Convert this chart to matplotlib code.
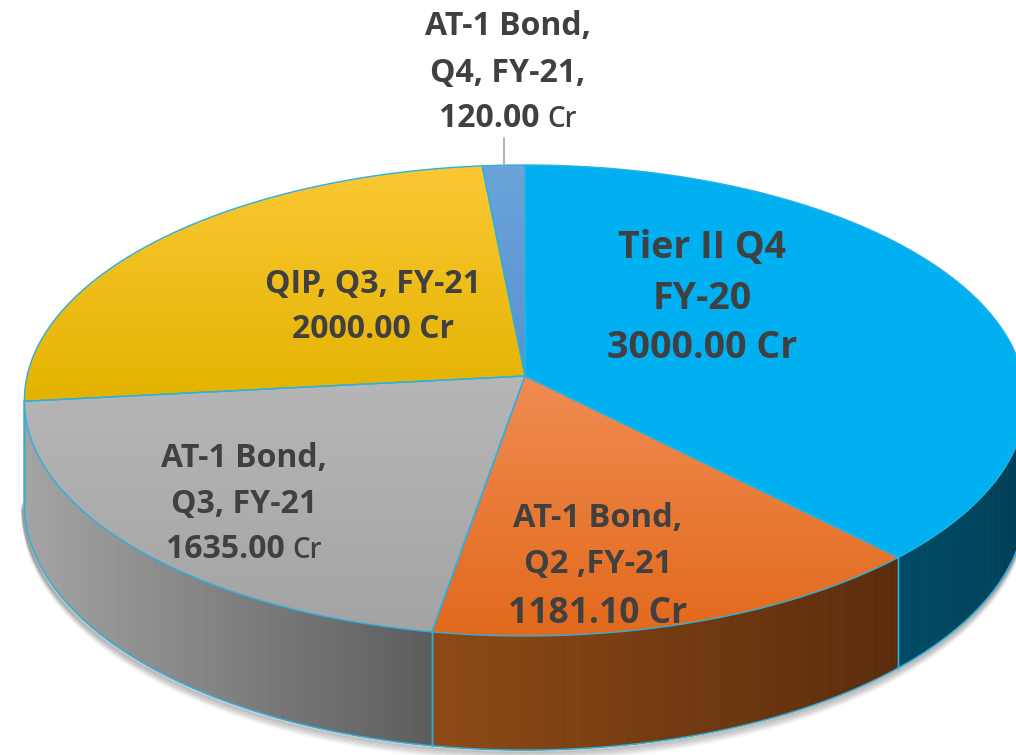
import numpy as np
import matplotlib.pyplot as plt
from matplotlib.patches import Polygon
from matplotlib.collections import PolyCollection
import matplotlib.colors as mcolors

OUTPUT_FILE = "out.png"

# data, clockwise from 12 o'clock
values = [3000.00, 1181.10, 1635.00, 2000.00, 120.00]
label_lines = [
    ["Tier II Q4", "FY-20", "3000.00 Cr"],
    ["AT-1 Bond,", "Q2 ,FY-21", "1181.10 Cr"],
    ["AT-1 Bond,", "Q3, FY-21", "1635.00 Cr"],
    ["QIP, Q3, FY-21", "2000.00 Cr"],
    ["AT-1 Bond,", "Q4, FY-21,", "120.00 Cr"],
]

# styles
top_colors = [("#00B0F0", "#00B0F0"), ("#F08C52", "#E2691C"), ("#B6B6B6", "#A4A4A4"),
              ("#FBC835", "#E3B300"), ("#6BA3DA", "#5A92CF")]
side_colors = [("#004B66", "#003F56"), ("#8E4A16", "#5A2C0C"), ("#A4A4A4", "#5C5C5C"),
               ("#C49A00", "#8A6C00"), ("#3F6E9C", "#2F5478")]
EDGE = "#2BB0E0"
TEXT = "#404040"
FONT = "Open Sans"

# label placement: center x, baselines, fontsize per line
label_pos = [
    (702, [258, 309, 358], [27, 27, 27]),
    (598, [527, 573, 623], [23.5, 23.5, 25.5]),
    (244, [467, 513, 558], [23, 23, 23]),
    (373, [293, 338], [23, 23]),
    (508, [35, 82, 127], [23, 23, 23]),
]
light_unit = {2, 4}   # "Cr" drawn lighter/smaller in these labels

# perspective of the disc
CX, Y0 = 525.0, 376.0
D, A, F, FH = 9.62, 21557.0, 4790.0, 983.0
HORIZON = Y0 - A / D


def proj(t, drop=0.0):
    u = np.cos(t)
    v = -np.sin(t)
    w = D - v
    return CX + F * u / w, HORIZON + (A + drop * FH) / w


def blend(c1, c2, f):
    a = np.array(mcolors.to_rgb(c1))
    b = np.array(mcolors.to_rgb(c2))
    return tuple(a + (b - a) * f)


def main():
    fig = plt.figure(figsize=(10.16, 7.55), dpi=100)
    ax = fig.add_axes([0, 0, 1, 1])
    ax.set_xlim(0, 1016)
    ax.set_ylim(755, 0)
    ax.axis('off')

    total = sum(values)
    frac = np.array(values) / total
    edges = np.deg2rad(90 - 360 * np.concatenate([[0], np.cumsum(frac)]))

    vis_hi = -np.arcsin(1 / D)
    vis_lo = -np.pi + np.arcsin(1 / D)

    # soft shadow under the rim
    ts = np.linspace(vis_lo, vis_hi, 300)
    for k in range(8):
        bx, by = proj(ts, 1.0)
        ax.plot(bx - 1, by + 1 + k * 1.2, color='black', alpha=0.09 - k * 0.01,
                lw=3, solid_capstyle='round', zorder=1)

    # rim (sides)
    for i in range(len(values)):
        t1, t2 = edges[i], edges[i + 1]
        hi = min(t1, vis_hi)
        lo = max(t2, vis_lo)
        if hi <= lo:
            continue
        n = max(int(np.rad2deg(hi - lo) * 2), 4)
        tt = np.linspace(lo, hi, n + 1)
        xs_lo = proj(lo)[0]
        xs_hi = proj(hi)[0]
        polys, cols = [], []
        for k in range(n):
            xa, ya = proj(tt[k])
            xb, yb = proj(tt[k + 1])
            xc, yc = proj(tt[k + 1], 1.0)
            xd, yd = proj(tt[k], 1.0)
            polys.append([(xa, ya), (xb, yb), (xc, yc), (xd, yd)])
            xm = (xa + xb) / 2
            f = (xm - min(xs_lo, xs_hi)) / abs(xs_hi - xs_lo)
            cols.append(blend(side_colors[i][0], side_colors[i][1], f))
        pc = PolyCollection(polys, facecolors=cols, edgecolors=cols, linewidths=0.6, zorder=2)
        ax.add_collection(pc)
        # vertical edges and bottom curve
        for tb in (lo, hi):
            xa, ya = proj(tb)
            xb, yb = proj(tb, 1.0)
            ax.plot([xa, xb], [ya, yb], color=EDGE, lw=1.0, zorder=3)
        bx, by = proj(tt, 1.0)
        ax.plot(bx, by, color=EDGE, lw=1.0, zorder=3)

    # top faces with vertical gradient
    for i in range(len(values)):
        t1, t2 = edges[i], edges[i + 1]
        tt = np.linspace(t1, t2, max(int(np.rad2deg(t1 - t2) * 2), 4))
        ax_, ay_ = proj(tt)
        pts = np.vstack([[CX, Y0], np.column_stack([ax_, ay_])])
        patch = Polygon(pts, closed=True, facecolor='none', edgecolor=EDGE, lw=1.0, zorder=5)
        ax.add_patch(patch)
        ymin, ymax = pts[:, 1].min(), pts[:, 1].max()
        xmin, xmax = pts[:, 0].min(), pts[:, 0].max()
        g = np.linspace(0, 1, 200)
        img = np.array([blend(top_colors[i][0], top_colors[i][1], f) for f in g])[:, None, :]
        im = ax.imshow(img, extent=(xmin, xmax, ymax, ymin), origin='upper',
                       aspect='auto', zorder=4, interpolation='bilinear')
        im.set_clip_path(patch)

    ax.set_xlim(0, 1016)
    ax.set_ylim(755, 0)

    # leader line for the small slice
    tm = (edges[4] + edges[5]) / 2
    lx, ly = proj(tm)
    ax.plot([lx, lx], [ly, ly - 27], color='#A6A6A6', lw=1.2, zorder=6)

    # labels
    for i, lines in enumerate(label_lines):
        xc, bases, sizes = label_pos[i]
        for j, line in enumerate(lines):
            last = j == len(lines) - 1
            if last and i in light_unit:
                num, unit = line.rsplit(" ", 1)
                t_num = ax.text(0, bases[j], num + " ", fontsize=sizes[j], fontweight='bold',
                                family=FONT, color=TEXT, ha='left', va='baseline', zorder=7)
                t_unit = ax.text(0, bases[j], unit, fontsize=sizes[j] - 3, fontweight='semibold',
                                 family=FONT, color=TEXT, ha='left', va='baseline', zorder=7)
                fig.canvas.draw()
                r = fig.canvas.get_renderer()
                inv = ax.transData.inverted()
                w1 = t_num.get_window_extent(r)
                w2 = t_unit.get_window_extent(r)
                wn = inv.transform((w1.x1, 0))[0] - inv.transform((w1.x0, 0))[0]
                wu = inv.transform((w2.x1, 0))[0] - inv.transform((w2.x0, 0))[0]
                x0 = xc - (wn + wu) / 2
                t_num.set_x(x0)
                t_unit.set_x(x0 + wn)
            else:
                ax.text(xc, bases[j], line, fontsize=sizes[j], fontweight='bold', family=FONT,
                        color=TEXT, ha='center', va='baseline', zorder=7)

    fig.savefig(OUTPUT_FILE, dpi=100)
    plt.close(fig)


if __name__ == "__main__":
    main()
